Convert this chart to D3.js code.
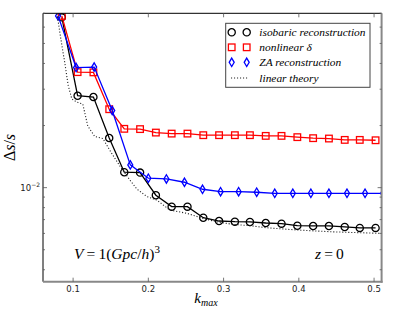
<!DOCTYPE html>
<html>
<head>
<meta charset="utf-8">
<script src="https://cdn.jsdelivr.net/npm/d3@7"></script>
<style>
  body { margin: 0; background: #fff; }
  svg { display: block; }
</style>
</head>
<body>
<div id="chart"></div>
<script>
// k_max grids
var kIso = [0.085, 0.106, 0.127, 0.148, 0.168, 0.189, 0.210, 0.231, 0.252, 0.273, 0.294,
            0.315, 0.335, 0.356, 0.377, 0.398, 0.419, 0.440, 0.461, 0.481, 0.502];
var kZA = [0.080, 0.104, 0.128, 0.152, 0.176, 0.200, 0.224, 0.248, 0.272, 0.296,
           0.320, 0.344, 0.368, 0.392, 0.416, 0.440, 0.464, 0.488, 0.512];
var kLin = [0.078, 0.0846, 0.089, 0.0934, 0.0983, 0.1049, 0.1129, 0.1195, 0.1288, 0.1395,
            0.151, 0.1621, 0.1754, 0.1847, 0.1979, 0.2112, 0.2285, 0.2511, 0.2724, 0.291,
            0.3123, 0.3349, 0.3574, 0.3986, 0.4438, 0.509];

// delta s / s
var isobaric = [0.0669, 0.0279, 0.0275, 0.0174, 0.01188, 0.01183, 0.00919, 0.00809, 0.00809,
                0.00715, 0.00689, 0.00684, 0.00682, 0.00674, 0.00669, 0.00654, 0.00652,
                0.00652, 0.00645, 0.00638, 0.00638];
var nonlinear = [0.068, 0.0363, 0.0362, 0.0240, 0.01928, 0.01922, 0.01849, 0.01828, 0.01828,
                 0.01796, 0.01796, 0.01796, 0.01796, 0.01782, 0.01782, 0.01757, 0.01737,
                 0.0173, 0.01704, 0.01704, 0.01697];
var zaRec = [0.068, 0.0382, 0.0384, 0.02364, 0.01289, 0.01111, 0.01102, 0.01062, 0.00982,
             0.00956, 0.00956, 0.0095, 0.00939, 0.00939, 0.00939, 0.00939, 0.00939,
             0.00939, 0.00939];
var linear = [0.072, 0.0502, 0.0402, 0.0314, 0.0269, 0.0260, 0.0254, 0.0199, 0.0177, 0.0173,
              0.01472, 0.01273, 0.01089, 0.00985, 0.00906, 0.00871, 0.00779, 0.00751,
              0.0071, 0.00683, 0.00664, 0.00654, 0.00639, 0.00623, 0.00611, 0.0060];

var xTicks = [0.1, 0.2, 0.3, 0.4, 0.5];
var yMajor = [0.01];
var yMinor = [0.004, 0.005, 0.006, 0.007, 0.008, 0.009, 0.02, 0.03, 0.04, 0.05, 0.06, 0.07];
var labels = ["isobaric reconstruction", "nonlinear \u03B4", "ZA reconstruction", "linear theory"];

var W = 415, H = 312;
var L = 43, R = 381.6, T = 13.3, B = 281.7;

var x = d3.scaleLinear().domain([0.06, 0.51]).range([L, R]);
var y = d3.scaleLog().domain([0.0035, 0.07]).range([B, T]);

var svg = d3.select("#chart").append("svg")
  .attr("width", W).attr("height", H);

svg.append("clipPath").attr("id", "clip")
  .append("rect").attr("x", L).attr("y", T).attr("width", R - L).attr("height", B - T);

// marker shapes
function circleM(g, color) {
  g.append("circle").attr("r", 3.6).attr("fill", "none")
    .attr("stroke", color).attr("stroke-width", 1.3);
}
function squareM(g, color) {
  g.append("rect").attr("x", -3.3).attr("y", -3.3).attr("width", 6.6).attr("height", 6.6)
    .attr("fill", "none").attr("stroke", color).attr("stroke-width", 1.3);
}
function diamondM(g, color) {
  g.append("path").attr("d", "M0,-4.2L2.5,0L0,4.2L-2.5,0Z")
    .attr("fill", "none").attr("stroke", color).attr("stroke-width", 1.3);
}

var series = [
  {k: kIso, v: isobaric, color: "#000", marker: circleM},
  {k: kIso, v: nonlinear, color: "#ff0000", marker: squareM},
  {k: kZA, v: zaRec, color: "#0000ff", marker: diamondM}
];

var plot = svg.append("g").attr("clip-path", "url(#clip)");

var line = d3.line()
  .x(function(d) { return x(d[0]); })
  .y(function(d) { return y(d[1]); });

series.forEach(function(s) {
  var pts = s.k.map(function(k, i) { return [k, s.v[i]]; });
  plot.append("path").datum(pts)
    .attr("d", line)
    .attr("fill", "none")
    .attr("stroke", s.color)
    .attr("stroke-width", 1.3);
  pts.forEach(function(p) {
    var g = plot.append("g").attr("transform", "translate(" + x(p[0]) + "," + y(p[1]) + ")");
    s.marker(g, s.color);
  });
});

plot.append("path")
  .datum(kLin.map(function(k, i) { return [k, linear[i]]; }))
  .attr("d", line)
  .attr("fill", "none")
  .attr("stroke", "#222")
  .attr("stroke-width", 1.1)
  .attr("stroke-dasharray", "1.1,1.9");

// axes frame
var axes = svg.append("g");
axes.append("line").attr("x1", L).attr("x2", L).attr("y1", T).attr("y2", B)
  .attr("stroke", "#000").attr("stroke-width", 1);
axes.append("line").attr("x1", L).attr("x2", R).attr("y1", T).attr("y2", T)
  .attr("stroke", "#000").attr("stroke-width", 1);
axes.append("line").attr("x1", R).attr("x2", R).attr("y1", T).attr("y2", B + 1)
  .attr("stroke", "#888").attr("stroke-width", 2);
axes.append("line").attr("x1", L).attr("x2", R + 1).attr("y1", B).attr("y2", B)
  .attr("stroke", "#888").attr("stroke-width", 2);

// ticks (inward, all four sides)
xTicks.forEach(function(t) {
  var px = x(t);
  axes.append("line").attr("x1", px).attr("x2", px).attr("y1", B).attr("y2", B - 4)
    .attr("stroke", "#555").attr("stroke-width", 0.8);
  axes.append("line").attr("x1", px).attr("x2", px).attr("y1", T).attr("y2", T + 4)
    .attr("stroke", "#555").attr("stroke-width", 0.8);
  axes.append("text").attr("x", px).attr("y", B + 10)
    .attr("text-anchor", "middle")
    .attr("font-family", "DejaVu Sans").attr("font-size", 8.5).attr("fill", "#222")
    .text(t.toFixed(1));
});

yMajor.concat(yMinor).forEach(function(t) {
  var len = yMajor.indexOf(t) >= 0 ? 4 : 2;
  var py = y(t);
  axes.append("line").attr("x1", L).attr("x2", L + len).attr("y1", py).attr("y2", py)
    .attr("stroke", "#555").attr("stroke-width", 0.8);
  axes.append("line").attr("x1", R).attr("x2", R - len).attr("y1", py).attr("y2", py)
    .attr("stroke", "#555").attr("stroke-width", 0.8);
});

yMajor.forEach(function(t) {
  var lab = axes.append("text").attr("x", 40).attr("y", y(t) + 3)
    .attr("text-anchor", "end")
    .attr("font-family", "DejaVu Sans").attr("font-size", 8.5).attr("fill", "#222");
  lab.append("tspan").text("10");
  lab.append("tspan").attr("dy", -4).attr("font-size", 6)
    .text("\u2212" + Math.round(-Math.log10(t)));
});

// axis labels
var ylab = svg.append("text")
  .attr("transform", "translate(15," + ((T + B) / 2) + ") rotate(-90)")
  .attr("text-anchor", "middle")
  .attr("font-family", "Liberation Serif").attr("font-size", 16).attr("fill", "#000");
ylab.append("tspan").text("\u0394");
ylab.append("tspan").attr("font-style", "italic").text("s");
ylab.append("tspan").text("/");
ylab.append("tspan").attr("font-style", "italic").text("s");

var xlab = svg.append("text")
  .attr("x", 206).attr("y", 303)
  .attr("text-anchor", "middle")
  .attr("font-family", "Liberation Serif").attr("font-style", "italic")
  .attr("font-size", 15).attr("fill", "#000");
xlab.append("tspan").text("k");
xlab.append("tspan").attr("dy", 3).attr("font-size", 10).text("max");

// annotations
var vt = svg.append("text").attr("x", 74).attr("y", 259)
  .attr("font-family", "Liberation Serif").attr("font-size", 15.5).attr("fill", "#000");
vt.append("tspan").attr("font-style", "italic").text("V");
vt.append("tspan").text("\u2009=\u20091(");
vt.append("tspan").attr("font-style", "italic").text("Gpc");
vt.append("tspan").text("/");
vt.append("tspan").attr("font-style", "italic").text("h");
vt.append("tspan").text(")");
vt.append("tspan").attr("dy", -6).attr("font-size", 11).text("3");

var zt = svg.append("text").attr("x", 315).attr("y", 259)
  .attr("font-family", "Liberation Serif").attr("font-size", 15.5).attr("fill", "#000");
zt.append("tspan").attr("font-style", "italic").text("z");
zt.append("tspan").text("\u2009=\u20090");

// legend
var lg = svg.append("g");
lg.append("rect").attr("x", 225.7).attr("y", 23.3).attr("width", 144.3).attr("height", 64)
  .attr("fill", "#fff").attr("stroke", "#444").attr("stroke-width", 1);

var rowY = [32.3, 47.3, 62.3, 78];
series.forEach(function(s, i) {
  [231.7, 246.7].forEach(function(mx) {
    var g = lg.append("g").attr("transform", "translate(" + mx + "," + rowY[i] + ")");
    s.marker(g, s.color);
  });
});
lg.append("line").attr("x1", 231).attr("x2", 248).attr("y1", rowY[3]).attr("y2", rowY[3])
  .attr("stroke", "#222").attr("stroke-width", 1.1).attr("stroke-dasharray", "1.1,1.9");

labels.forEach(function(t, i) {
  lg.append("text").attr("x", 259.3).attr("y", rowY[i] + 3.5)
    .attr("font-family", "Liberation Serif").attr("font-style", "italic")
    .attr("font-size", 11.4).attr("fill", "#000")
    .text(t);
});
</script>
</body>
</html>
